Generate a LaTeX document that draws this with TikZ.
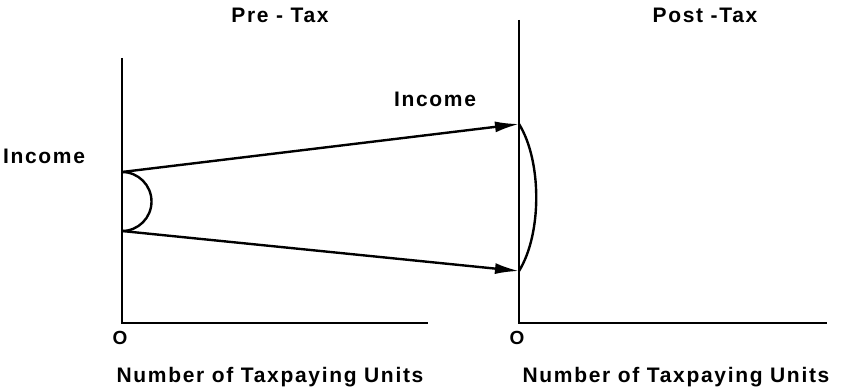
\documentclass[tikz,border=0pt]{standalone}
\usepackage{fontspec}
\setmainfont{Liberation Sans}[LetterSpace=8]
\usepackage{tikz}
\usetikzlibrary{arrows.meta, positioning, calc}

\begin{document}
\begin{tikzpicture}[x=1pt, y=1pt, font=\fontsize{21}{25}\selectfont\bfseries,
  axis/.style={line width=2.8pt},
  curve/.style={line width=2.4pt},
  flow/.style={line width=2.4pt, -{Latex[length=24pt, width=11pt]}},
  lbl/.style={inner sep=0pt, anchor=base},
  zero/.style={inner sep=0pt, font=\fontsize{19}{22}\selectfont\bfseries}]
  \useasboundingbox (0,0) rectangle (843,389);

  % pre-tax axes
  \coordinate (o1) at (122,66);
  \coordinate (y1) at (122,331);
  \coordinate (x1) at (428,66);
  \draw[axis] (y1) -- (o1) -- (x1);

  % post-tax axes
  \coordinate (o2) at (519,66);
  \coordinate (y2) at (519,369);
  \coordinate (x2) at (827,66);
  \draw[axis] (y2) -- (o2) -- (x2);

  % income spread before and after
  \coordinate (a) at (122,217);
  \coordinate (b) at (122,158);
  \coordinate (c) at (519,265);
  \coordinate (d) at (519,118);
  \draw[curve] (a) arc[start angle=90, end angle=-90, radius=29.5];
  \draw[curve] (c) .. controls ($(c)+(23,-37)$) and ($(d)+(23,37)$) .. (d);
  \draw[flow] (a) -- (c);
  \draw[flow] (b) -- (d);

  \node[lbl] (pre) at (280,366) {Pre - Tax};
  \node[lbl] (post) at (705,366) {Post -Tax};
  \node[lbl] (inc1) at (44,226) {Income};
  \node[lbl] (inc2) at (435,282) {Income};
  \node[zero] (zero1) at (120,51) {O};
  \node[zero] (zero2) at (517,51) {O};
  \node[lbl] (units1) at (270,7) {Number of Taxpaying Units};
  \node[lbl] (units2) at (676,7) {Number of Taxpaying Units};
\end{tikzpicture}
\end{document}
